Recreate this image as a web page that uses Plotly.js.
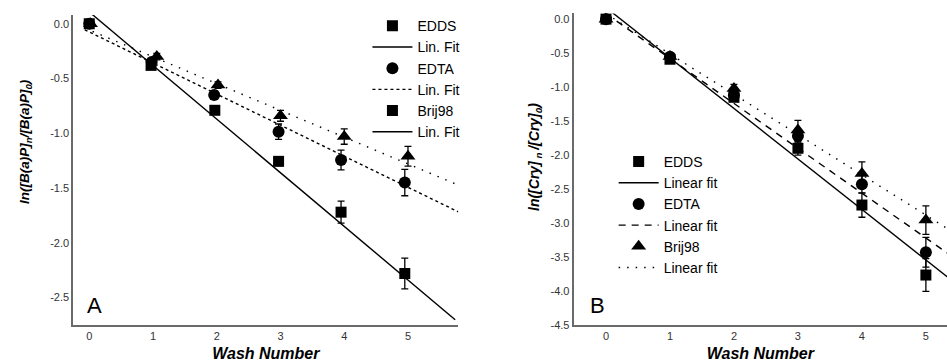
<!DOCTYPE html>
<html>
<head>
<meta charset="utf-8">
<script src="https://cdn.plot.ly/plotly-3.0.1.min.js"></script>
<style>html,body{margin:0;padding:0;background:#fff;}#chart{width:947px;height:363px;}</style>
</head>
<body>
<div id="chart"></div>
<script>
// ---------- Panel A data (B(a)P) ----------
const aEddsX = [0, 0.97, 1.97, 2.97, 3.95, 4.95];
const aEddsY = [0, -0.38, -0.79, -1.256, -1.72, -2.28];
const aEddsErr = [0.02, 0.03, 0.03, 0.04, 0.1, 0.14];
const aEdtaX = [0, 0.98, 1.96, 2.97, 3.95, 4.95];
const aEdtaY = [0, -0.35, -0.65, -0.985, -1.244, -1.45];
const aEdtaErr = [0.02, 0.03, 0.04, 0.07, 0.09, 0.12];
const aBrijX = [0.02, 1.06, 2.02, 3.0, 4.0, 5.0];
const aBrijY = [0, -0.3, -0.56, -0.84, -1.03, -1.21];
const aBrijErr = [0.02, 0.03, 0.03, 0.05, 0.07, 0.09];
const aFitEddsX = [0, 5.74];
const aFitEddsY = [0.108, -2.702];
const aFitEdtaX = [-0.07, 5.79];
const aFitEdtaY = [-0.055, -1.717];
const aFitBrijX = [-0.07, 5.79];
const aFitBrijY = [-0.04, -1.473];
const aTickX = [0, 1, 2, 3, 4, 5];
const aTickYVals = [0, -0.5, -1, -1.5, -2, -2.5];
const aTickYText = ['0.0', '-0.5', '-1.0', '-1.5', '-2.0', '-2.5'];

// ---------- Panel B data (Cry) ----------
const bWash = [0, 1, 2, 3, 4, 5];
const bEddsY = [0, -0.59, -1.15, -1.9, -2.735, -3.765];
const bEddsErr = [0.03, 0.04, 0.05, 0.1, 0.18, 0.24];
const bEdtaY = [0, -0.554, -1.12, -1.72, -2.43, -3.43];
const bEdtaErr = [0.03, 0.04, 0.05, 0.1, 0.13, 0.22];
const bBrijY = [0, -0.55, -1.02, -1.63, -2.27, -2.956];
const bBrijErr = [0.03, 0.04, 0.06, 0.14, 0.17, 0.21];
const bFitEddsX = [0, 5.4];
const bFitEddsY = [0.17, -3.84];
const bFitEdtaX = [0, 5.4];
const bFitEdtaY = [0.08, -3.484];
const bFitBrijX = [0, 5.4];
const bFitBrijY = [0.08, -3.12];
const bTickYVals = [0, -0.5, -1, -1.5, -2, -2.5, -3, -3.5, -4, -4.5];
const bTickYText = ['0.0', '-0.5', '-1.0', '-1.5', '-2.0', '-2.5', '-3.0', '-3.5', '-4.0', '-4.5'];

const FONT = 'Arial, "Liberation Sans", sans-serif';
const BLK = '#000';

function pts(x, y, err, sym, size, name, xa, ya, lg, show) {
  return {
    type: 'scatter', mode: 'markers', x: x, y: y, name: name,
    xaxis: xa, yaxis: ya, legend: lg, showlegend: show,
    marker: {symbol: sym, size: size, color: BLK},
    error_y: {type: 'data', array: err, visible: true, color: BLK, thickness: 1.3, width: 3.5},
    cliponaxis: false
  };
}
function fit(x, y, dash, name, xa, ya, lg, show) {
  return {
    type: 'scatter', mode: 'lines', x: x, y: y, name: name,
    xaxis: xa, yaxis: ya, legend: lg, showlegend: show,
    line: {color: BLK, width: 1.4, dash: dash}
  };
}
function dummyMarker(sym, name, lg) {
  return {type: 'scatter', mode: 'markers', x: [null], y: [null], name: name,
    xaxis: 'x', yaxis: 'y', legend: lg, marker: {symbol: sym, size: 11, color: BLK}};
}
function dummyLine(dash, name, lg) {
  return {type: 'scatter', mode: 'lines', x: [null], y: [null], name: name,
    xaxis: 'x', yaxis: 'y', legend: lg, line: {color: BLK, width: 1.4, dash: dash}};
}

const traces = [
  // panel A
  pts(aEddsX, aEddsY, aEddsErr, 'square', 11, 'EDDS', 'x', 'y', 'legend', true),
  fit(aFitEddsX, aFitEddsY, 'solid', 'Lin. Fit', 'x', 'y', 'legend', true),
  pts(aEdtaX, aEdtaY, aEdtaErr, 'circle', 12, 'EDTA', 'x', 'y', 'legend', true),
  fit(aFitEdtaX, aFitEdtaY, '3px,3px', 'Lin. Fit', 'x', 'y', 'legend', true),
  pts(aBrijX, aBrijY, aBrijErr, 'triangle-up', 13, 'Brij98', 'x', 'y', 'legend', false),
  dummyMarker('square', 'Brij98', 'legend'),
  fit(aFitBrijX, aFitBrijY, '1.5px,7px', 'Lin. Fit', 'x', 'y', 'legend', false),
  dummyLine('solid', 'Lin. Fit', 'legend'),
  // panel B
  pts(bWash, bEddsY, bEddsErr, 'square', 11, 'EDDS', 'x2', 'y2', 'legend2', true),
  fit(bFitEddsX, bFitEddsY, 'solid', 'Linear fit', 'x2', 'y2', 'legend2', true),
  pts(bWash, bEdtaY, bEdtaErr, 'circle', 12, 'EDTA', 'x2', 'y2', 'legend2', true),
  fit(bFitEdtaX, bFitEdtaY, '7px,6px', 'Linear fit', 'x2', 'y2', 'legend2', true),
  pts(bWash, bBrijY, bBrijErr, 'triangle-up', 13, 'Brij98', 'x2', 'y2', 'legend2', true),
  fit(bFitBrijX, bFitBrijY, '1.5px,7px', 'Linear fit', 'x2', 'y2', 'legend2', true)
];

const axisBase = {
  showline: true, linecolor: '#6a6a6a', linewidth: 2, showgrid: false, zeroline: false,
  ticks: '', tickfont: {family: FONT, size: 11, color: '#333'}, fixedrange: true
};

const layout = {
  width: 947, height: 363,
  margin: {l: 0, r: 0, t: 0, b: 0},
  paper_bgcolor: '#fff', plot_bgcolor: '#fff',
  font: {family: FONT, color: '#000'},
  xaxis: Object.assign({}, axisBase, {
    domain: [0.0774, 0.484], range: [-0.25, 5.79], anchor: 'y',
    tickvals: aTickX, ticktext: aTickX.map(String),
    title: {text: '<b><i>Wash Number</i></b>', font: {family: FONT, size: 16, color: '#000'}, standoff: 7}
  }),
  yaxis: Object.assign({}, axisBase, {
    domain: [0.1047, 0.9587], range: [-2.75, 0.08], anchor: 'x',
    tickvals: aTickYVals, ticktext: aTickYText
  }),
  xaxis2: Object.assign({}, axisBase, {
    domain: [0.6058, 1.0], range: [-0.505, 5.33], anchor: 'y2',
    tickvals: aTickX, ticktext: aTickX.map(String),
    title: {text: '<b><i>Wash Number</i></b>', font: {family: FONT, size: 16, color: '#000'}, standoff: 7}
  }),
  yaxis2: Object.assign({}, axisBase, {
    domain: [0.1047, 0.963], range: [-4.5, 0.084], anchor: 'x2',
    tickvals: bTickYVals, ticktext: bTickYText
  }),
  legend: {
    x: 0.388, xanchor: 'left', y: 0.972, yanchor: 'top',
    bgcolor: 'rgba(0,0,0,0)', borderwidth: 0, itemwidth: 40, tracegroupgap: 0,
    font: {family: FONT, size: 14, color: '#000'}, itemclick: false, itemdoubleclick: false
  },
  legend2: {
    x: 0.648, xanchor: 'left', y: 0.598, yanchor: 'top',
    bgcolor: 'rgba(0,0,0,0)', borderwidth: 0, itemwidth: 40, tracegroupgap: 0,
    font: {family: FONT, size: 14, color: '#000'}, itemclick: false, itemdoubleclick: false
  },
  annotations: [
    {xref: 'paper', yref: 'paper', x: 94.5 / 947, y: 1 - 305 / 363, text: 'A', showarrow: false,
     font: {family: FONT, size: 22, color: '#000'}, xanchor: 'center', yanchor: 'middle'},
    {xref: 'paper', yref: 'paper', x: 597 / 947, y: 1 - 305 / 363, text: 'B', showarrow: false,
     font: {family: FONT, size: 22, color: '#000'}, xanchor: 'center', yanchor: 'middle'},
    {xref: 'paper', yref: 'paper', x: 26 / 947, y: 1 - 142 / 363, textangle: -90, showarrow: false,
     text: '<b><i>ln([B(a)P]<sub>n</sub>/[B(a)P]<sub>0</sub>)</i></b>',
     font: {family: FONT, size: 13.5, color: '#000'}, xanchor: 'center', yanchor: 'middle'},
    {xref: 'paper', yref: 'paper', x: 535 / 947, y: 1 - 157 / 363, textangle: -90, showarrow: false,
     text: '<b><i>ln([Cry]<sub> n </sub>/[Cry]<sub>0</sub>)</i></b>',
     font: {family: FONT, size: 14, color: '#000'}, xanchor: 'center', yanchor: 'middle'}
  ],
  showlegend: true
};

Plotly.newPlot('chart', traces, layout, {staticPlot: true, displayModeBar: false});
</script>
</body>
</html>
